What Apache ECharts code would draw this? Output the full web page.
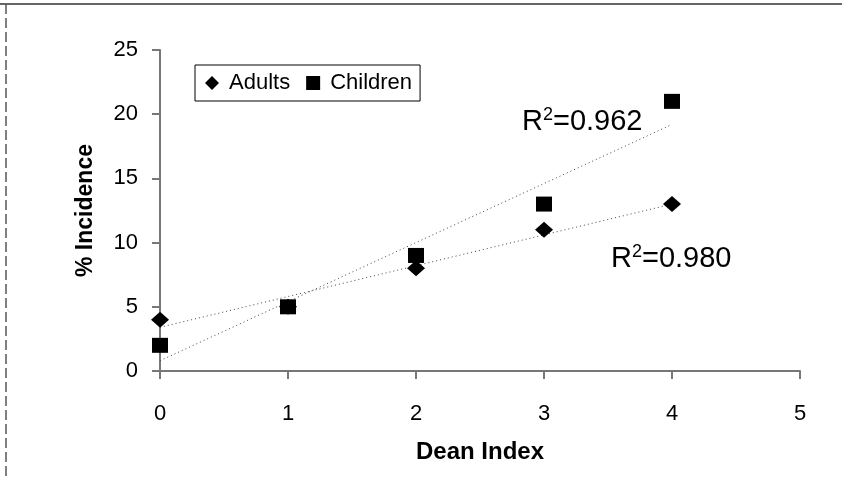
<!DOCTYPE html>
<html>
<head>
<meta charset="utf-8">
<script src="https://cdn.jsdelivr.net/npm/echarts@6/dist/echarts.min.js"></script>
<style>html,body{margin:0;padding:0;background:#fff;}#c{width:842px;height:479px;}</style>
</head>
<body>
<div id="c"></div>
<script>
const deanIndex = [0, 1, 2, 3, 4];
const adults = [4, 5, 8, 11, 13];
const children = [2, 5, 9, 13, 21];
const xTicks = [0, 1, 2, 3, 4, 5];
const yTicks = [0, 5, 10, 15, 20, 25];
const r2Values = ['0.962', '0.980'];

function fit(xs, ys) {
  const n = xs.length;
  const mx = xs.reduce((a, b) => a + b, 0) / n;
  const my = ys.reduce((a, b) => a + b, 0) / n;
  let sxy = 0, sxx = 0;
  for (let i = 0; i < n; i++) { sxy += (xs[i] - mx) * (ys[i] - my); sxx += (xs[i] - mx) ** 2; }
  const b = sxy / sxx, a = my - b * mx;
  const x0 = xs[0], x1 = xs[n - 1];
  return [[x0, a + b * x0], [x1, a + b * x1]];
}

const chart = echarts.init(document.getElementById('c'), null, { renderer: 'canvas' });
const font = 'Liberation Sans, Arial, sans-serif';
const trendStyle = { color: '#444', width: 1, type: [1, 3] };
const r2Rich = {
  r: { fontFamily: font, fontSize: 29, color: '#000', lineHeight: 31 },
  s: { fontFamily: font, fontSize: 18, color: '#000', verticalAlign: 'top', lineHeight: 18 }
};

chart.setOption({
  animation: false,
  backgroundColor: '#fff',
  grid: { left: 160, right: 42, top: 50, bottom: 108 },
  legend: {
    data: ['Adults', 'Children'],
    left: 195, top: 65,
    orient: 'horizontal',
    borderColor: '#000', borderWidth: 1, borderRadius: 0,
    padding: [7, 8, 7, 10],
    itemGap: 16, itemWidth: 14, itemHeight: 14,
    textStyle: { fontFamily: font, fontSize: 22, color: '#000', padding: [0, 0, 0, 5] }
  },
  xAxis: {
    type: 'value', min: 0, max: 5, interval: 1,
    name: 'Dean Index', nameLocation: 'middle', nameGap: 69, nameMoveOverlap: false,
    nameTextStyle: { fontFamily: font, fontSize: 24, fontWeight: 'bold', color: '#000' },
    axisLine: { show: true, onZero: false, lineStyle: { color: '#777', width: 2 } },
    axisTick: { show: true, inside: false, length: 8, lineStyle: { color: '#777', width: 2 } },
    axisLabel: { fontFamily: font, fontSize: 22, color: '#000', margin: 32,
      formatter: v => xTicks.includes(v) ? String(v) : '' },
    splitLine: { show: false }
  },
  yAxis: {
    type: 'value', min: 0, max: 25, interval: 5,
    name: '% Incidence', nameLocation: 'middle', nameGap: 63, nameRotate: 90, nameMoveOverlap: false,
    nameTextStyle: { fontFamily: font, fontSize: 23, fontWeight: 'bold', color: '#000' },
    axisLine: { show: true, onZero: false, lineStyle: { color: '#777', width: 2 } },
    axisTick: { show: true, inside: false, length: 8, lineStyle: { color: '#777', width: 2 } },
    axisLabel: { fontFamily: font, fontSize: 22, color: '#000', margin: 22,
      formatter: v => yTicks.includes(v) ? String(v) : '' },
    splitLine: { show: false }
  },
  series: [
    { name: 'Adults trend', type: 'line', data: fit(deanIndex, adults), symbol: 'none',
      lineStyle: trendStyle, z: 1, silent: true },
    { name: 'Children trend', type: 'line', data: fit(deanIndex, children), symbol: 'none',
      lineStyle: trendStyle, z: 1, silent: true },
    { name: 'Adults', type: 'scatter', symbol: 'diamond', symbolSize: [18, 16],
      itemStyle: { color: '#000', opacity: 1 }, data: deanIndex.map((x, i) => [x, adults[i]]), z: 3 },
    { name: 'Children', type: 'scatter', symbol: 'rect', symbolSize: [16, 15],
      itemStyle: { color: '#000', opacity: 1 }, data: deanIndex.map((x, i) => [x, children[i]]), z: 4 }
  ],
  graphic: [
    { type: 'line', shape: { x1: 0, y1: 4, x2: 842, y2: 4 }, style: { stroke: '#333', lineWidth: 1.5 } },
    { type: 'line', shape: { x1: 6, y1: 4, x2: 6, y2: 479 }, style: { stroke: '#555', lineWidth: 1.5, lineDash: [10, 4] } },
    { type: 'text', left: 522, top: 106,
      style: { text: '{r|R}{s|2}{r|=' + r2Values[0] + '}', rich: r2Rich } },
    { type: 'text', left: 611, top: 243,
      style: { text: '{r|R}{s|2}{r|=' + r2Values[1] + '}', rich: r2Rich } }
  ]
});
</script>
</body>
</html>
